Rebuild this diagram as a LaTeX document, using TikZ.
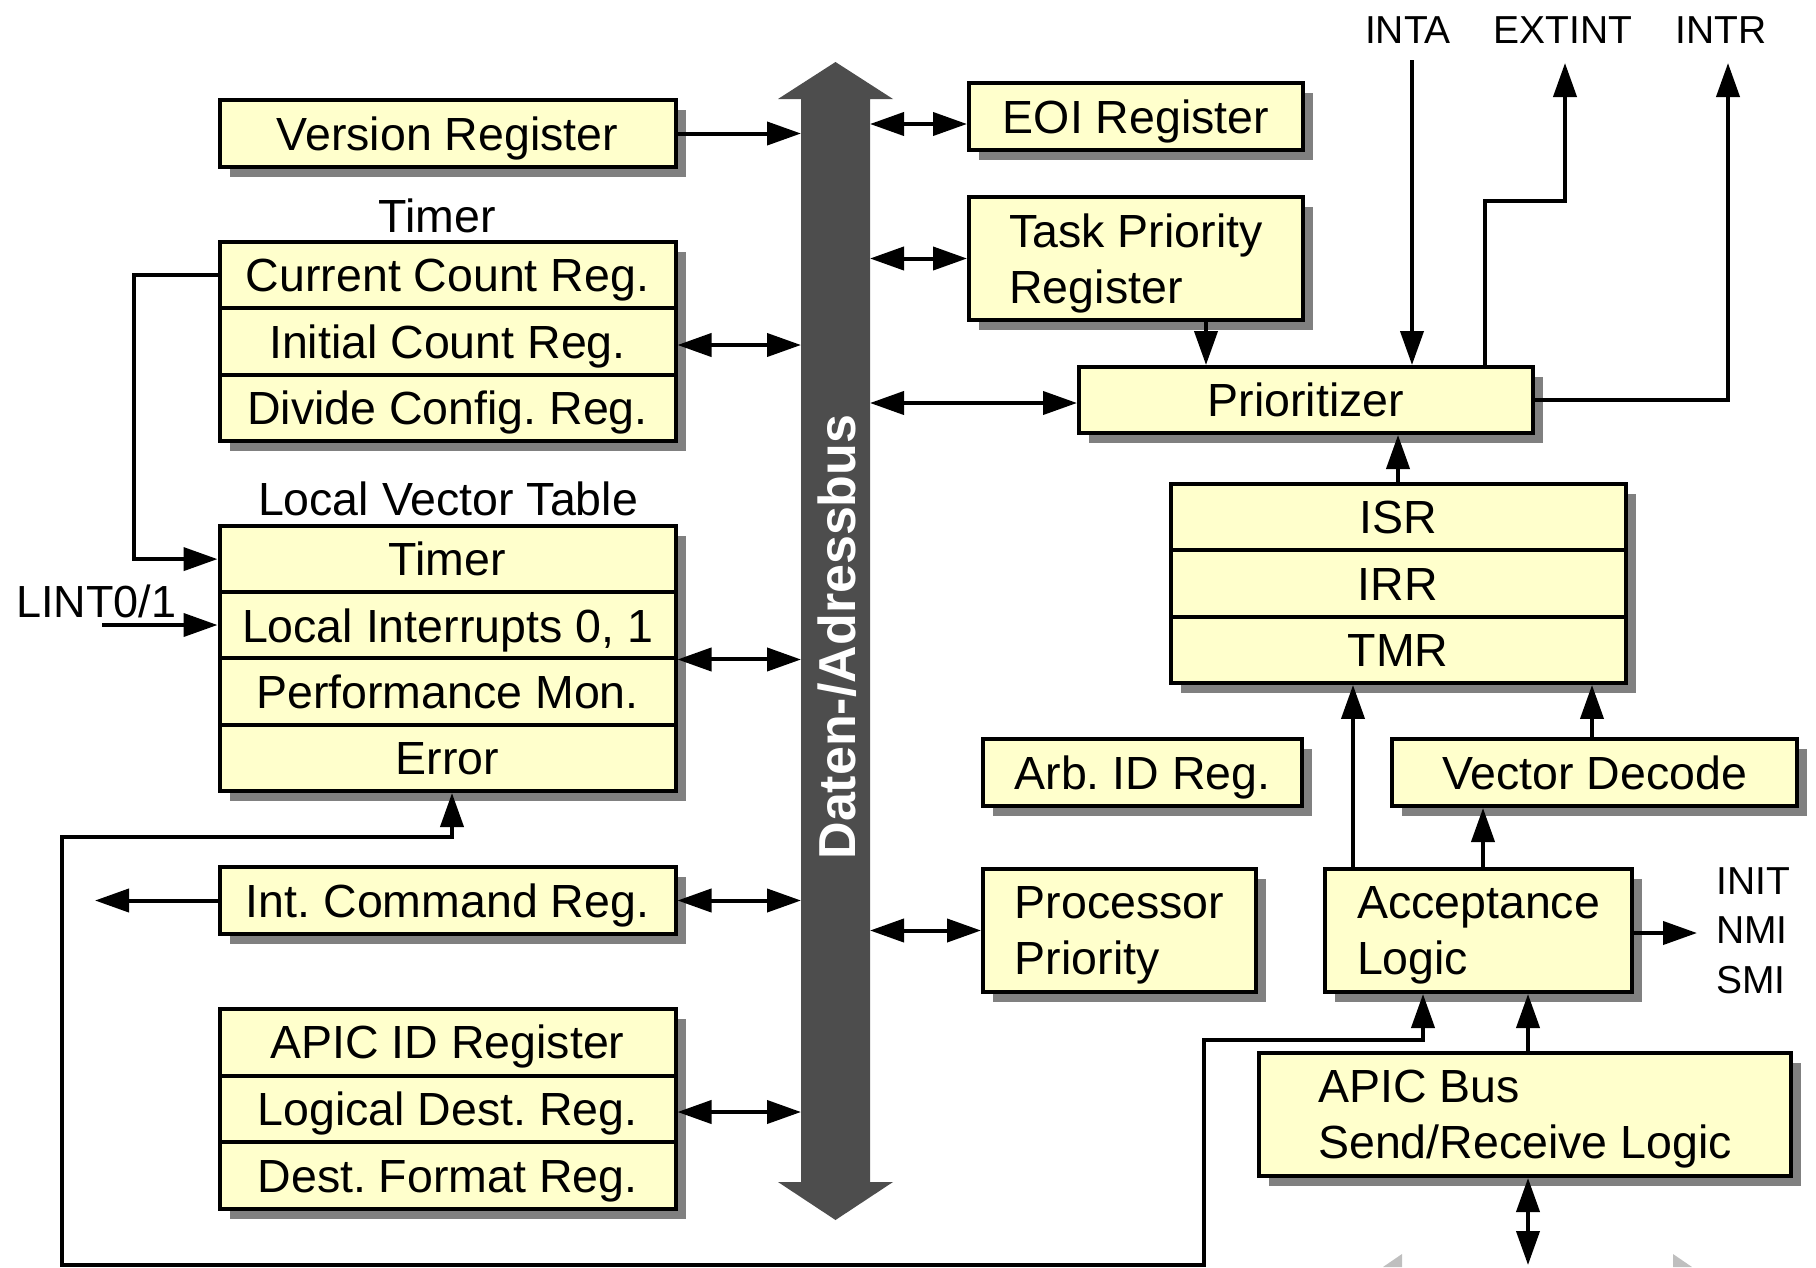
\documentclass[tikz,border=0pt]{standalone}
\usepackage{fontspec}
\setmainfont{Liberation Sans}
\usetikzlibrary{arrows.meta,shadows}
\definecolor{regfill}{HTML}{FFFFCC}
\definecolor{shadowgray}{HTML}{808080}
\definecolor{busgray}{HTML}{4D4D4D}
\definecolor{paleg}{HTML}{BFBFBF}
\newcommand\nodepth[1]{\raisebox{0pt}[\height][0pt]{#1}}
\frenchspacing
\begin{document}
\begin{tikzpicture}[x=1pt,y=-1pt,
  >={Triangle[length=34pt,width=23pt]},
  reg/.style={draw, line width=4pt, fill=regfill, inner sep=0pt,
    drop shadow={shadow xshift=10pt,shadow yshift=-10pt,fill=shadowgray,opacity=1},
    font=\fontsize{46.5pt}{56pt}\selectfont},
  one/.style={text height=33.3pt,text depth=0pt},
  two/.style={align=left},
  con/.style={line width=4pt, line join=miter},
  lbl/.style={inner sep=0pt, anchor=base, font=\fontsize{46.5pt}{56pt}\selectfont},
  sig/.style={inner sep=0pt, font=\fontsize{39pt}{49.5pt}\selectfont},
]
\useasboundingbox (0,0) rectangle (1816,1267);

% ---------- bus ----------
\fill[busgray] (801,99) -- (778,99) -- (835.5,62) -- (893,99) -- (870,99)
  -- (870,1182) -- (893,1182) -- (835.5,1220) -- (778,1182) -- (801,1182) -- cycle;
\node[text=white, rotate=90, inner sep=0pt, text height=37.2pt, text depth=0pt,
  font=\fontsize{52pt}{60pt}\selectfont\bfseries] (buslbl) at (836.5,637) {Daten-/Adressbus};
\coordinate (busL) at (801,0);
\coordinate (busR) at (870,0);

% ---------- left column ----------
\node[reg,one,minimum width=456pt,minimum height=67pt] (ver) at (447.5,133.5) {Version Register};

\node[lbl] (timerlbl) at (437,232) {Timer};
\node[reg,one,minimum width=456pt,minimum height=66.3pt] (cc) at (447.5,275.2) {Current Count Reg.};
\node[reg,one,minimum width=456pt,minimum height=66.3pt] (ic) at (447.5,341.5) {Initial Count Reg.};
\node[reg,one,minimum width=456pt,minimum height=66.3pt] (dc) at (447.5,407.8) {Divide Config. Reg.};

\node[lbl] (lvtlbl) at (448,515) {Local Vector Table};
\node[reg,one,minimum width=456pt,minimum height=66.25pt] (lt) at (447.5,559.1) {Timer};
\node[reg,one,minimum width=456pt,minimum height=66.25pt] (li) at (447.5,625.4) {Local Interrupts 0, 1};
\node[reg,one,minimum width=456pt,minimum height=66.25pt] (lp) at (447.5,691.6) {Performance Mon.};
\node[reg,one,minimum width=456pt,minimum height=66.25pt] (le) at (447.5,757.9) {Error};

\node[reg,one,minimum width=456pt,minimum height=67pt] (icr) at (447.5,900.5) {Int. Command Reg.};

\node[reg,one,minimum width=456pt,minimum height=66.7pt] (aid) at (447.5,1042.3) {APIC ID Register};
\node[reg,one,minimum width=456pt,minimum height=66.7pt] (ldr) at (447.5,1109) {Logical Dest. Reg.};
\node[reg,one,minimum width=456pt,minimum height=66.7pt] (dfr) at (447.5,1175.7) {Dest. Format Reg.};

\node[lbl, anchor=base west] (lint) at (16,617) {\fontsize{45pt}{54pt}\selectfont LINT0/1};

% ---------- right column ----------
\node[reg,one,minimum width=334pt,minimum height=67pt] (eoi) at (1136,116.5) {EOI Register};
\node[reg,two,minimum width=334pt,minimum height=123pt] (tpr) at (1136,258.5) {Task Priority\\\nodepth{Register}};
\node[reg,one,minimum width=454pt,minimum height=66pt] (pri) at (1306,400) {Prioritizer};

\node[reg,one,minimum width=455pt,minimum height=66.33pt] (isr) at (1398,517.2) {ISR};
\node[reg,one,minimum width=455pt,minimum height=66.33pt] (irr) at (1398,583.5) {IRR};
\node[reg,one,minimum width=455pt,minimum height=66.33pt] (tmr) at (1398,649.8) {TMR};

\node[reg,one,minimum width=319pt,minimum height=67pt] (arb) at (1142.5,772.5) {Arb. ID Reg.};
\node[reg,one,minimum width=405pt,minimum height=67pt] (vd) at (1594.5,772.5) {Vector Decode};

\node[reg,two,minimum width=273pt,minimum height=123pt] (pp) at (1119.5,930.5) {Processor\\\nodepth{Priority}};
\node[reg,two,minimum width=307pt,minimum height=123pt] (acc) at (1478.5,930.5) {Acceptance\\\nodepth{Logic}};
\node[reg,two,minimum width=532pt,minimum height=123pt] (apb) at (1525,1114.5) {APIC Bus\\\nodepth{Send/Receive Logic}};

\node[sig, anchor=base] (inta) at (1408,43) {INTA};
\node[sig, anchor=base] (extint) at (1563,43) {EXTINT};
\node[sig, anchor=base] (intr) at (1721,43) {INTR};
\node[sig, align=left, anchor=west] (ints) at (1716,930.5) {INIT\\NMI\\SMI};

% ---------- coordinates ----------
\coordinate (lintin) at (102,625);
\coordinate (icrout) at (95,902);
\coordinate (loopA) at (62,1265);
\coordinate (loopB) at (1204,1040);
\coordinate (intain) at (1412,60);
\coordinate (extA) at (1485,201);
\coordinate (extout) at (1565,63);
\coordinate (introut) at (1728,63);
\coordinate (initin) at (1697,933);
\coordinate (apbout) at (1528,1265);

% ---------- connectors ----------
\draw[con,->] (ver.east) -- (ver.east -| busL);
\draw[con,<->] ([yshift=-3.5pt]ic.east) -- ([yshift=-3.5pt]ic.east -| busL);
\draw[con,<->] ([yshift=-3pt]lp.north east) -- ([yshift=-3pt]lp.north east -| busL);
\draw[con,<->] (icr.east) -- (icr.east -| busL);
\draw[con,<->] ([yshift=-3pt]ldr.east) -- ([yshift=-3pt]ldr.east -| busL);

\draw[con,<->] ([yshift=-7.5pt]eoi.west -| busR) -- ([yshift=-7.5pt]eoi.west);
\draw[con,<->] (tpr.west -| busR) -- (tpr.west);
\draw[con,<->] ([yshift=-3pt]pri.west -| busR) -- ([yshift=-3pt]pri.west);
\draw[con,<->] (pp.west -| busR) -- (pp.west);

\draw[con,->] (cc.west) -- ++(-84,0) |- (lt.west);
\draw[con,->] (lintin) -- (lintin -| li.west);
\draw[con,->] (icr.west) -- (icr.west -| icrout);
\draw[con,<->] ([xshift=4.5pt]le.south) -- ++(0,44) -| (loopA) -| (loopB) -| ([xshift=-55.5pt]acc.south);

\draw[con,->] ([xshift=70pt]tpr.south) -- ([xshift=70pt]tpr.south |- pri.north);
\draw[con,->] (intain) -- (intain |- pri.north);
\draw[con,->] (pri.north -| extA) -- (extA) -| (extout);
\draw[con,->] (pri.east) -| (introut);
\draw[con,->] (isr.north) -- (isr.north |- pri.south);

\draw[con,->] ([xshift=-125.5pt]acc.north) -- ([xshift=-125.5pt]acc.north |- tmr.south);
\draw[con,->] ([xshift=-2.5pt]vd.north) -- ([xshift=-2.5pt]vd.north |- tmr.south);
\draw[con,->] ([xshift=4.5pt]acc.north) -- ([xshift=4.5pt]acc.north |- vd.south);
\draw[con,->] ([yshift=-2.5pt]acc.east) -- ([yshift=-2.5pt]acc.east -| initin);
\draw[con,->] ([xshift=3pt]apb.north) -- ([xshift=3pt]apb.north |- acc.south);
\draw[con,<->] ([xshift=3pt]apb.south) -- ([xshift=3pt]apb.south |- apbout);

% ---------- pale arrowhead corners at the bottom edge ----------
\fill[paleg] (1402,1254) -- (1402,1267) -- (1383,1267) -- cycle;
\fill[paleg] (1673,1254) -- (1673,1267) -- (1692,1267) -- cycle;
\end{tikzpicture}
\end{document}
